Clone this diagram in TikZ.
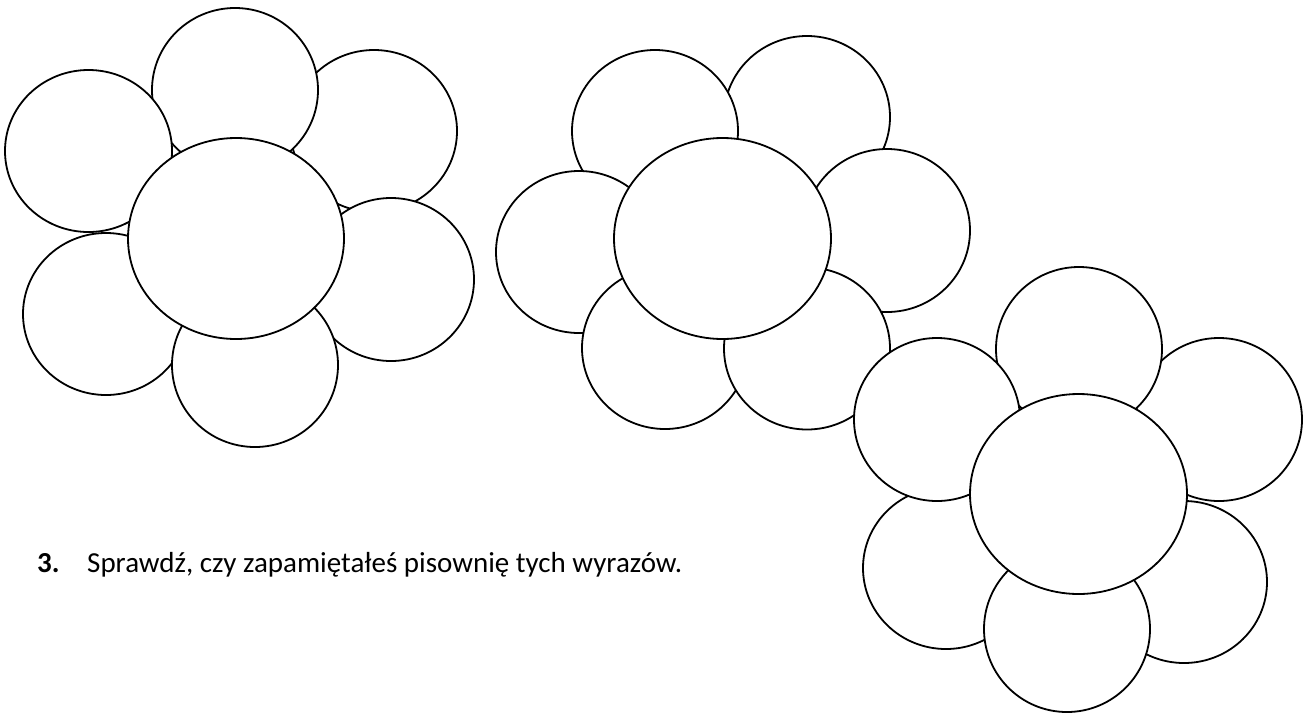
\documentclass[tikz,border=0pt]{standalone}
\usepackage{fontspec}
\setmainfont{Carlito}
\begin{document}
\begin{tikzpicture}[x=1pt,y=-1pt,
  petal/.style={draw=black,fill=white,line width=1.8pt},
  txt/.style={anchor=base west,inner sep=0pt,font=\fontsize{29}{34}\selectfont}]
\useasboundingbox (0,0) rectangle (1312,713);
% flower 1
\draw[petal] (374,131) ellipse [x radius=83pt,y radius=81pt];
\draw[petal] (235,90) ellipse [x radius=83pt,y radius=82pt];
\draw[petal] (88.5,151) ellipse [x radius=83.5pt,y radius=81pt];
\draw[petal] (106,314) ellipse [x radius=83pt,y radius=81pt];
\draw[petal] (391,279.5) ellipse [x radius=83pt,y radius=81.5pt];
\draw[petal] (255,365) ellipse [x radius=83pt,y radius=82pt];
\draw[petal] (236,238.5) ellipse [x radius=108pt,y radius=100.5pt];
% flower 2
\draw[petal] (807,117) ellipse [x radius=83pt,y radius=81pt];
\draw[petal] (655,131) ellipse [x radius=83pt,y radius=81pt];
\draw[petal] (579,252) ellipse [x radius=83pt,y radius=81pt];
\draw[petal] (665,348) ellipse [x radius=83pt,y radius=81pt];
\draw[petal] (887,230.5) ellipse [x radius=83pt,y radius=81.5pt];
\draw[petal] (807,348.5) ellipse [x radius=83pt,y radius=81pt];
\draw[petal] (722.5,238.5) ellipse [x radius=108.5pt,y radius=100.5pt];
% flower 3
\draw[petal] (946,568) ellipse [x radius=83pt,y radius=81pt];
\draw[petal] (1184,582) ellipse [x radius=83pt,y radius=81pt];
\draw[petal] (1219,419.5) ellipse [x radius=83pt,y radius=81.5pt];
\draw[petal] (1079,349) ellipse [x radius=83pt,y radius=82pt];
\draw[petal] (937,419.5) ellipse [x radius=83pt,y radius=81.5pt];
\draw[petal] (1067,629) ellipse [x radius=83pt,y radius=83pt];
\draw[petal] (1078.5,494) ellipse [x radius=108.5pt,y radius=100pt];
% text
\node[txt] (num) at (37,572) {\bfseries 3.};
\node[txt] (task) at (87,572) {Sprawdź, czy zapamiętałeś pisownię tych wyrazów.};
\end{tikzpicture}
\end{document}
